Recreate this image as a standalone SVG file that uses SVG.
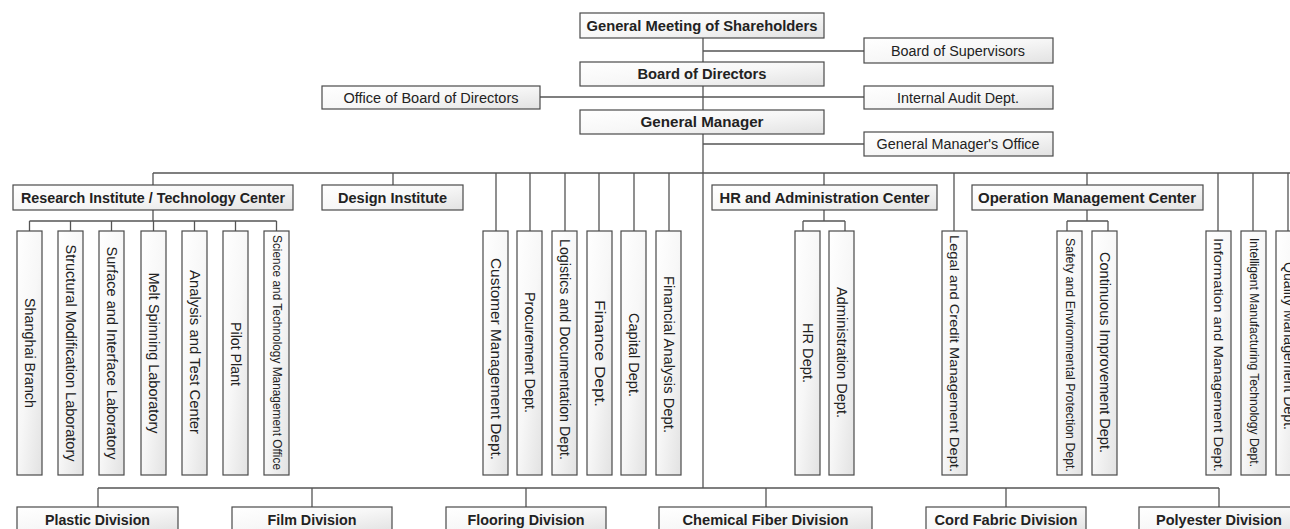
<svg xmlns="http://www.w3.org/2000/svg" width="1290" height="529" viewBox="0 0 1290 529">
<defs>
<linearGradient id="g" x1="0" y1="0" x2="1" y2="1">
<stop offset="0" stop-color="#ffffff"/>
<stop offset="0.5" stop-color="#f7f7f7"/>
<stop offset="1" stop-color="#e2e2e2"/>
</linearGradient>
</defs>
<style>
rect{fill:url(#g);stroke:#4a4a4a;stroke-width:1.2}
text{font-family:"Liberation Sans",Arial,sans-serif;fill:#222;text-anchor:middle;dominant-baseline:central}
.b{font-weight:bold;font-size:14.5px}
.r{font-size:14px}
.v{font-size:14px}
.s{font-size:12.5px}
.m{font-size:13px}
#connectors path{fill:none;stroke:#555;stroke-width:1.3}
</style>
<rect x="0" y="0" width="1290" height="529" style="fill:#fff;stroke:none"/>
<g id="connectors">
<path d="M703 38V62M703 86V110M703 134V488"/>
<path d="M703 51H864M540 97H864M703 144H864"/>
<path d="M153 173H1290"/>
<path d="M153 173V185M393 173V185M824 173V185M1087 173V185"/>
<path d="M496 173V231M530 173V231M565 173V231M599 173V231M634 173V231M669 173V231M954 173V231M1218 173V231M1253 173V231M1288 173V231"/>
<path d="M153 210V221M29.5 221H276.5M29.5 221V231M70.5 221V231M111.5 221V231M153.5 221V231M194.5 221V231M235.5 221V231M276.5 221V231"/>
<path d="M824 210V221M803 221H845M803 221V231M845 221V231"/>
<path d="M1087 210V221M1067 221H1108M1067 221V231M1108 221V231"/>
<path d="M98 488H1219M98 488V507M312 488V507M526 488V507M766 488V507M1006 488V507M1219 488V507"/>
</g>
<g id="n-gms"><rect x="580" y="13" width="244" height="25"/><text class="b" x="702" y="25.5" textLength="231" lengthAdjust="spacingAndGlyphs">General Meeting of Shareholders</text></g>
<g id="n-bos"><rect x="864" y="38" width="189" height="25"/><text class="r" x="958" y="50.5" textLength="134" lengthAdjust="spacingAndGlyphs">Board of Supervisors</text></g>
<g id="n-bod"><rect x="580" y="62" width="244" height="24"/><text class="b" x="702" y="74" textLength="129" lengthAdjust="spacingAndGlyphs">Board of Directors</text></g>
<g id="n-obod"><rect x="322" y="86" width="218" height="23"/><text class="r" x="431" y="97.5" textLength="175" lengthAdjust="spacingAndGlyphs">Office of Board of Directors</text></g>
<g id="n-audit"><rect x="864" y="86" width="189" height="23"/><text class="r" x="958" y="97.5" textLength="122" lengthAdjust="spacingAndGlyphs">Internal Audit Dept.</text></g>
<g id="n-gm"><rect x="580" y="110" width="244" height="24"/><text class="b" x="702" y="122" textLength="123" lengthAdjust="spacingAndGlyphs">General Manager</text></g>
<g id="n-gmo"><rect x="864" y="132" width="189" height="24"/><text class="r" x="958" y="144" textLength="163" lengthAdjust="spacingAndGlyphs">General Manager's Office</text></g>
<g id="n-ri"><rect x="13" y="185" width="280" height="25"/><text class="b" x="153" y="197.5" textLength="264" lengthAdjust="spacingAndGlyphs">Research Institute / Technology Center</text></g>
<g id="n-di"><rect x="322" y="185" width="141" height="25"/><text class="b" x="392.5" y="197.5" textLength="109" lengthAdjust="spacingAndGlyphs">Design Institute</text></g>
<g id="n-hr"><rect x="712" y="185" width="225" height="25"/><text class="b" x="824.5" y="197.5" textLength="210" lengthAdjust="spacingAndGlyphs">HR and Administration Center</text></g>
<g id="n-op"><rect x="972" y="185" width="231" height="25"/><text class="b" x="1087" y="197.5" textLength="218" lengthAdjust="spacingAndGlyphs">Operation Management Center</text></g>
<g id="n-sh"><rect x="17" y="231" width="25" height="244"/><text class="v" x="29.5" y="353" transform="rotate(90 29.5 353)" textLength="110" lengthAdjust="spacingAndGlyphs">Shanghai Branch</text></g>
<g id="n-sml"><rect x="58" y="231" width="25" height="244"/><text class="v" x="70.5" y="353" transform="rotate(90 70.5 353)" textLength="217" lengthAdjust="spacingAndGlyphs">Structural Modification Laboratory</text></g>
<g id="n-sil"><rect x="99" y="231" width="25" height="244"/><text class="v" x="111.5" y="353" transform="rotate(90 111.5 353)" textLength="213" lengthAdjust="spacingAndGlyphs">Surface and Interface Laboratory</text></g>
<g id="n-msl"><rect x="141" y="231" width="25" height="244"/><text class="v" x="153.5" y="353" transform="rotate(90 153.5 353)" textLength="161" lengthAdjust="spacingAndGlyphs">Melt Spinning Laboratory</text></g>
<g id="n-atc"><rect x="182" y="231" width="25" height="244"/><text class="v" x="194.5" y="352" transform="rotate(90 194.5 352)" textLength="164" lengthAdjust="spacingAndGlyphs">Analysis and Test Center</text></g>
<g id="n-pp"><rect x="223" y="231" width="25" height="244"/><text class="v" x="235.5" y="354" transform="rotate(90 235.5 354)" textLength="64" lengthAdjust="spacingAndGlyphs">Pilot Plant</text></g>
<g id="n-stmo"><rect x="264" y="231" width="25" height="244"/><text class="s" x="276.5" y="352.5" transform="rotate(90 276.5 352.5)" textLength="235" lengthAdjust="spacingAndGlyphs">Science and Technology Management Office</text></g>
<g id="n-cmd"><rect x="483" y="231" width="25" height="244"/><text class="v" x="495.5" y="359" transform="rotate(90 495.5 359)" textLength="202" lengthAdjust="spacingAndGlyphs">Customer Management Dept.</text></g>
<g id="n-pd"><rect x="517" y="231" width="25" height="244"/><text class="v" x="529.5" y="352.5" transform="rotate(90 529.5 352.5)" textLength="121" lengthAdjust="spacingAndGlyphs">Procurement Dept.</text></g>
<g id="n-ldd"><rect x="552" y="231" width="25" height="244"/><text class="v" x="564.5" y="349.5" transform="rotate(90 564.5 349.5)" textLength="221" lengthAdjust="spacingAndGlyphs">Logistics and Documentation Dept.</text></g>
<g id="n-fd"><rect x="587" y="231" width="25" height="244"/><text class="v" x="599.5" y="353.5" transform="rotate(90 599.5 353.5)" textLength="107" lengthAdjust="spacingAndGlyphs">Finance Dept.</text></g>
<g id="n-cd"><rect x="621" y="231" width="25" height="244"/><text class="v" x="633.5" y="355" transform="rotate(90 633.5 355)" textLength="84" lengthAdjust="spacingAndGlyphs">Capital Dept.</text></g>
<g id="n-fad"><rect x="656" y="231" width="25" height="244"/><text class="v" x="668.5" y="354.5" transform="rotate(90 668.5 354.5)" textLength="157" lengthAdjust="spacingAndGlyphs">Financial Analysis Dept.</text></g>
<g id="n-hrd"><rect x="795" y="231" width="25" height="244"/><text class="v" x="807.5" y="353" transform="rotate(90 807.5 353)" textLength="60" lengthAdjust="spacingAndGlyphs">HR Dept.</text></g>
<g id="n-ad"><rect x="829" y="231" width="25" height="244"/><text class="v" x="841.5" y="352.5" transform="rotate(90 841.5 352.5)" textLength="131" lengthAdjust="spacingAndGlyphs">Administration Dept.</text></g>
<g id="n-lcm"><rect x="942" y="231" width="25" height="244"/><text class="m" x="954.5" y="353.5" transform="rotate(90 954.5 353.5)" textLength="237" lengthAdjust="spacingAndGlyphs">Legal and Credit Management Dept.</text></g>
<g id="n-sep"><rect x="1057" y="231" width="25" height="244"/><text class="s" x="1069.5" y="355" transform="rotate(90 1069.5 355)" textLength="234" lengthAdjust="spacingAndGlyphs">Safety and Environmental Protection Dept.</text></g>
<g id="n-cid"><rect x="1092" y="231" width="25" height="244"/><text class="v" x="1104.5" y="352.5" transform="rotate(90 1104.5 352.5)" textLength="201" lengthAdjust="spacingAndGlyphs">Continuous Improvement Dept.</text></g>
<g id="n-imd"><rect x="1206" y="231" width="25" height="244"/><text class="m" x="1218.5" y="355" transform="rotate(90 1218.5 355)" textLength="234" lengthAdjust="spacingAndGlyphs">Information and Management Dept.</text></g>
<g id="n-imt"><rect x="1241" y="231" width="25" height="244"/><text class="s" x="1253.5" y="352.5" transform="rotate(90 1253.5 352.5)" textLength="229" lengthAdjust="spacingAndGlyphs">Intelligent Manufacturing Technology Dept.</text></g>
<g id="n-qmd"><rect x="1276" y="231" width="25" height="244"/><text class="v" x="1288.5" y="346" transform="rotate(90 1288.5 346)" textLength="168" lengthAdjust="spacingAndGlyphs">Quality Management Dept.</text></g>
<g id="n-plastic"><rect x="17" y="507" width="161" height="25"/><text class="b" x="97.5" y="519.5" textLength="105" lengthAdjust="spacingAndGlyphs">Plastic Division</text></g>
<g id="n-film"><rect x="232" y="507" width="160" height="25"/><text class="b" x="312" y="519.5" textLength="89" lengthAdjust="spacingAndGlyphs">Film Division</text></g>
<g id="n-flooring"><rect x="446" y="507" width="160" height="25"/><text class="b" x="526" y="519.5" textLength="117" lengthAdjust="spacingAndGlyphs">Flooring Division</text></g>
<g id="n-chem"><rect x="659" y="507" width="213" height="25"/><text class="b" x="765.5" y="519.5" textLength="166" lengthAdjust="spacingAndGlyphs">Chemical Fiber Division</text></g>
<g id="n-cord"><rect x="926" y="507" width="160" height="25"/><text class="b" x="1006" y="519.5" textLength="143" lengthAdjust="spacingAndGlyphs">Cord Fabric Division</text></g>
<g id="n-poly"><rect x="1139" y="507" width="160" height="25"/><text class="b" x="1219" y="519.5" textLength="126" lengthAdjust="spacingAndGlyphs">Polyester Division</text></g>
</svg>
